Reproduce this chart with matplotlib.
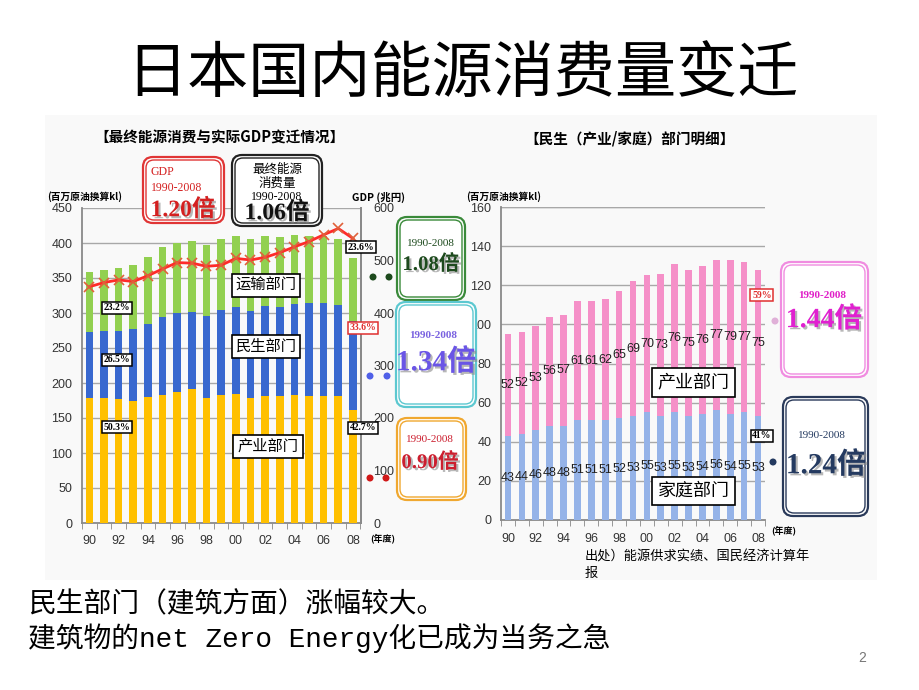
import matplotlib
matplotlib.use("Agg")
import matplotlib.pyplot as plt
import matplotlib.patheffects as pe
from matplotlib.patches import Rectangle, FancyBboxPatch, Circle

plt.rcParams["font.family"] = ["Liberation Sans", "Noto Sans CJK SC"]

W, H = 920, 690

# --- data: final energy consumption by sector (million kl oil eq.) and GDP (trillion yen)
years = list(range(1990, 2009))
industry = [179, 179, 177, 174, 180, 183, 187, 191, 179, 183, 184, 178, 181, 181, 183, 181, 181, 181, 162]
residential = [94, 95, 98, 103, 104, 112, 113, 111, 117, 121, 125, 125, 129, 127, 130, 133, 133, 130, 127]
transport = [85, 88, 90, 92, 96, 99, 100, 101, 101, 102, 101, 103, 100, 100, 98, 96, 96, 95, 89]
gdp = [450, 458, 463, 460, 471, 484, 496, 495, 489, 491, 504, 501, 506, 515, 526, 536, 549, 561, 542]

# --- data: residential breakdown (household / business)
household = [43, 44, 46, 48, 48, 51, 51, 51, 52, 53, 55, 53, 55, 53, 54, 56, 54, 55, 53]
business = [52, 52, 53, 56, 57, 61, 61, 62, 65, 69, 70, 73, 76, 75, 76, 77, 79, 77, 75]

tick_labels = ["90", "92", "94", "96", "98", "00", "02", "04", "06", "08"]

SERIF = ["Liberation Serif", "Noto Sans CJK SC"]
CJK = ["Noto Sans CJK SC", "DejaVu Sans"]
MONO = ["Liberation Mono", "Noto Sans CJK SC"]


def px_rect(x0, y0, x1, y1):
    return [x0 / W, 1 - y1 / H, (x1 - x0) / W, (y1 - y0) / H]


fig = plt.figure(figsize=(9.2, 6.9), dpi=100)
fig.patch.set_facecolor("white")
fig.add_artist(Rectangle((45 / W, 1 - 580 / H), 832 / W, 465 / H,
                         transform=fig.transFigure, fc="#f9f9f9", ec="none", zorder=-5))

x = list(range(len(years)))
grid_c = "#a8a8a8"

# ---------------- left chart ----------------
ax = fig.add_axes(px_rect(82, 208, 361, 523))
ax.set_facecolor("none")
ax.bar(x, industry, width=0.52, color="#ffc000", zorder=3)
ax.bar(x, residential, width=0.52, bottom=industry, color="#3868cf", zorder=3)
bottom2 = [a + b for a, b in zip(industry, residential)]
ax.bar(x, transport, width=0.52, bottom=bottom2, color="#92d050", zorder=3)
ax.set_xlim(-0.43, 18.55)
ax.set_ylim(0, 450)
ax.set_yticks(range(0, 451, 50))
ax.grid(axis="y", color=grid_c, lw=1, zorder=0)
ax.set_xticks(range(0, 19, 2))
ax.set_xticklabels(tick_labels)
ax.set_xticks([i + 0.5 for i in range(-1, 19)], minor=True)
ax.tick_params(axis="x", which="major", length=0, pad=9, labelsize=9, colors="#333333")
ax.tick_params(axis="x", which="minor", length=4, color="#888888")
ax.tick_params(axis="y", length=0, pad=7, labelsize=9, colors="#333333")
ax.spines["top"].set_visible(False)
for s in ["left", "bottom", "right"]:
    ax.spines[s].set_color("#8a8a8a")
    ax.spines[s].set_linewidth(1.3)

ax2 = ax.twinx()
ax2.plot(x, gdp, color="#ff2a2a", lw=2, marker="x", ms=7, mew=1.2, mec="#e0603a", zorder=5)
ax2.set_ylim(0, 600)
ax2.set_yticks(range(0, 601, 100))
ax2.tick_params(axis="y", length=0, pad=9, labelsize=9, colors="#333333")
for s in ["top", "left", "bottom"]:
    ax2.spines[s].set_visible(False)
ax2.spines["right"].set_color("#8a8a8a")
ax2.spines["right"].set_linewidth(1.3)

# ---------------- right chart ----------------
axr = fig.add_axes(px_rect(501, 207, 765, 520))
axr.set_facecolor("none")
axr.bar(x, household, width=0.48, color="#95b3e8", zorder=3)
axr.bar(x, business, width=0.48, bottom=household, color="#f590c8", zorder=3)
for i in x:
    axr.text(i, household[i] / 2, str(household[i]), ha="center", va="center",
             fontsize=9, color="#222222", zorder=4)
    axr.text(i, household[i] + business[i] / 2, str(business[i]), ha="center",
             va="center", fontsize=9, color="#222222", zorder=4)
axr.set_xlim(-0.41, 18.48)
axr.set_ylim(0, 160)
axr.set_yticks(range(0, 161, 20))
axr.grid(axis="y", color=grid_c, lw=1, zorder=0)
axr.axhline(160, color="#808080", lw=1.6, zorder=1)
axr.set_xticks(range(0, 19, 2))
axr.set_xticklabels(tick_labels)
axr.set_xticks([i + 0.5 for i in range(-1, 19)], minor=True)
axr.tick_params(axis="x", which="major", length=0, pad=9, labelsize=9, colors="#333333")
axr.tick_params(axis="x", which="minor", length=4, color="#888888")
axr.tick_params(axis="y", length=0, pad=7, labelsize=9, colors="#333333")
for s in ["top", "right"]:
    axr.spines[s].set_visible(False)
for s in ["left", "bottom"]:
    axr.spines[s].set_color("#8a8a8a")
    axr.spines[s].set_linewidth(1.3)

# ---------------- overlay (pixel coordinates) ----------------
ov = fig.add_axes([0, 0, 1, 1], zorder=10)
ov.set_xlim(0, W)
ov.set_ylim(H, 0)
ov.axis("off")
ov.patch.set_alpha(0)

shadow = [pe.withSimplePatchShadow(offset=(1.5, -1.5), shadow_rgbFace="#888888", alpha=0.6)]


def dbl_box(x0, y0, x1, y1, color, r=10):
    ov.add_patch(FancyBboxPatch((x0, y0), x1 - x0, y1 - y0,
                                boxstyle=f"round,pad=0,rounding_size={r}",
                                fc="white", ec=color, lw=1.6))
    ov.add_patch(FancyBboxPatch((x0 + 3, y0 + 3), x1 - x0 - 6, y1 - y0 - 6,
                                boxstyle=f"round,pad=0,rounding_size={r - 2}",
                                fc="none", ec=color, lw=1.0))


def sec_label(x0, y0, x1, y1, s, size):
    ov.add_patch(Rectangle((x0, y0), x1 - x0, y1 - y0, fc="white", ec="black", lw=1.2))
    ov.text((x0 + x1) / 2, (y0 + y1) / 2, s, ha="center", va="center",
            fontsize=size, family=CJK)


def pct(xc, yc, s, color="black"):
    ov.text(xc, yc, s, ha="center", va="center", fontsize=7, family=SERIF,
            weight="bold", color=color,
            bbox=dict(boxstyle="square,pad=0.18", fc="white", ec=color, lw=1.1))


# title
ov.text(462, 75, "日本国内能源消费量变迁", ha="center", va="center", fontsize=44, family=CJK)

# subtitles
ov.text(220, 138, "【最终能源消费与实际GDP变迁情况】", ha="center", va="center",
        fontsize=10.5, weight="bold", family=CJK)
ov.text(630, 138, "【民生（产业/家庭）部门明细】", ha="center", va="center",
        fontsize=10.5, weight="bold", family=CJK)

# axis unit labels
ov.text(47, 197, "(百万原油换算kl)", ha="left", va="center", fontsize=7, weight="bold", family=CJK)
ov.text(352, 197, "GDP (兆円)", ha="left", va="center", fontsize=7.5, weight="bold", family=CJK)
ov.text(466, 197, "(百万原油换算kl)", ha="left", va="center", fontsize=7, weight="bold", family=CJK)
ov.text(370, 538, "(年度)", ha="left", va="center", fontsize=6.5, weight="bold", family=CJK)
ov.text(771, 530, "(年度)", ha="left", va="center", fontsize=6.5, weight="bold", family=CJK)

# GDP box
dbl_box(143, 157, 224, 223, "#e03535")
ov.text(151, 172, "GDP", ha="left", va="center", fontsize=8.5, family=SERIF, color="#d42020")
ov.text(151, 188, "1990-2008", ha="left", va="center", fontsize=8.5, family=SERIF, color="#d42020")
ov.text(183, 210, "1.20倍", ha="center", va="center", fontsize=17, family=SERIF,
        weight="bold", color="#d42020", path_effects=shadow)

# final energy box
dbl_box(232, 155, 322, 226, "#222222")
ov.text(277, 169, "最终能源", ha="center", va="center", fontsize=9, family=CJK)
ov.text(277, 183, "消费量", ha="center", va="center", fontsize=9, family=CJK)
ov.text(277, 197, "1990-2008", ha="center", va="center", fontsize=8.5, family=SERIF)
ov.text(277, 213, "1.06倍", ha="center", va="center", fontsize=17, family=SERIF,
        weight="bold", color="#111111", path_effects=shadow)

# sector boxes
dbl_box(397, 217, 465, 300, "#3a8a3a")
ov.text(431, 243, "1990-2008", ha="center", va="center", fontsize=8, family=SERIF, color="#1d4a1d")
ov.text(431, 265, "1.08倍", ha="center", va="center", fontsize=15, family=SERIF,
        weight="bold", color="#1d4a1d", path_effects=shadow)

dbl_box(396, 302, 476, 407, "#5cc8d0")
ov.text(433, 336, "1990-2008", ha="center", va="center", fontsize=8, family=SERIF,
        weight="bold", color="#7a62e0")
ov.text(436, 362, "1.34倍", ha="center", va="center", fontsize=21, family=SERIF,
        weight="bold", color="#6a55e6", path_effects=shadow)

dbl_box(397, 418, 466, 500, "#f0a830")
ov.text(430, 440, "1990-2008", ha="center", va="center", fontsize=8, family=SERIF, color="#cc1f2f")
ov.text(430, 463, "0.90倍", ha="center", va="center", fontsize=15, family=SERIF,
        weight="bold", color="#cc1f2f", path_effects=shadow)

dbl_box(781, 262, 868, 377, "#f08ce0")
ov.text(822, 295, "1990-2008", ha="center", va="center", fontsize=8, family=SERIF,
        weight="bold", color="#e020c8")
ov.text(824, 320, "1.44倍", ha="center", va="center", fontsize=20, family=SERIF,
        weight="bold", color="#e020d0", path_effects=shadow)

dbl_box(783, 397, 868, 516, "#2a3a5a")
ov.text(822, 436, "1990-2008", ha="center", va="center", fontsize=8, family=SERIF, color="#243a60")
ov.text(826, 465, "1.24倍", ha="center", va="center", fontsize=21, family=SERIF,
        weight="bold", color="#243a60", path_effects=shadow)

# connector dots
for (cx, cy, c) in [(373, 277, "#1d4a1d"), (389, 277, "#1d4a1d"),
                    (370, 376, "#5060e8"), (387, 376, "#5060e8"),
                    (370, 478, "#d01818"), (386, 478, "#d01818"),
                    (775, 321, "#e0b0d8"), (773, 462, "#243a60")]:
    ov.add_patch(Circle((cx, cy), 3.5, fc=c, ec="none"))

# sector name labels
sec_label(232, 274, 300, 297, "运输部门", 11)
sec_label(232, 335, 300, 358, "民生部门", 11)
sec_label(233, 435, 303, 458, "产业部门", 11)
sec_label(652, 368, 735, 397, "产业部门", 13)
sec_label(652, 477, 735, 505, "家庭部门", 13)

# share labels
pct(117, 308, "23.2%")
pct(117, 360, "26.5%")
pct(117, 427, "50.3%")
pct(361, 247, "23.6%")
pct(363, 328, "33.6%", color="#e03030")
pct(363, 428, "42.7%")
pct(762, 295, "59%", color="#e03030")
pct(762, 436, "41%")

# source
ov.text(585, 557, "出处）能源供求实绩、国民经济计算年", ha="left", va="center", fontsize=9.5, family=CJK)
ov.text(585, 573, "报", ha="left", va="center", fontsize=9.5, family=CJK)

# bottom message
ov.text(28, 605, "民生部门（建筑方面）涨幅较大。", ha="left", va="center", fontsize=20, family=MONO)
ov.text(28, 638, "建筑物的net Zero Energy化已成为当务之急", ha="left", va="center",
        fontsize=20, family=MONO)
ov.text(862, 658, "2", ha="center", va="center", fontsize=10, color="#777777")

fig.savefig("out.png", dpi=100)
